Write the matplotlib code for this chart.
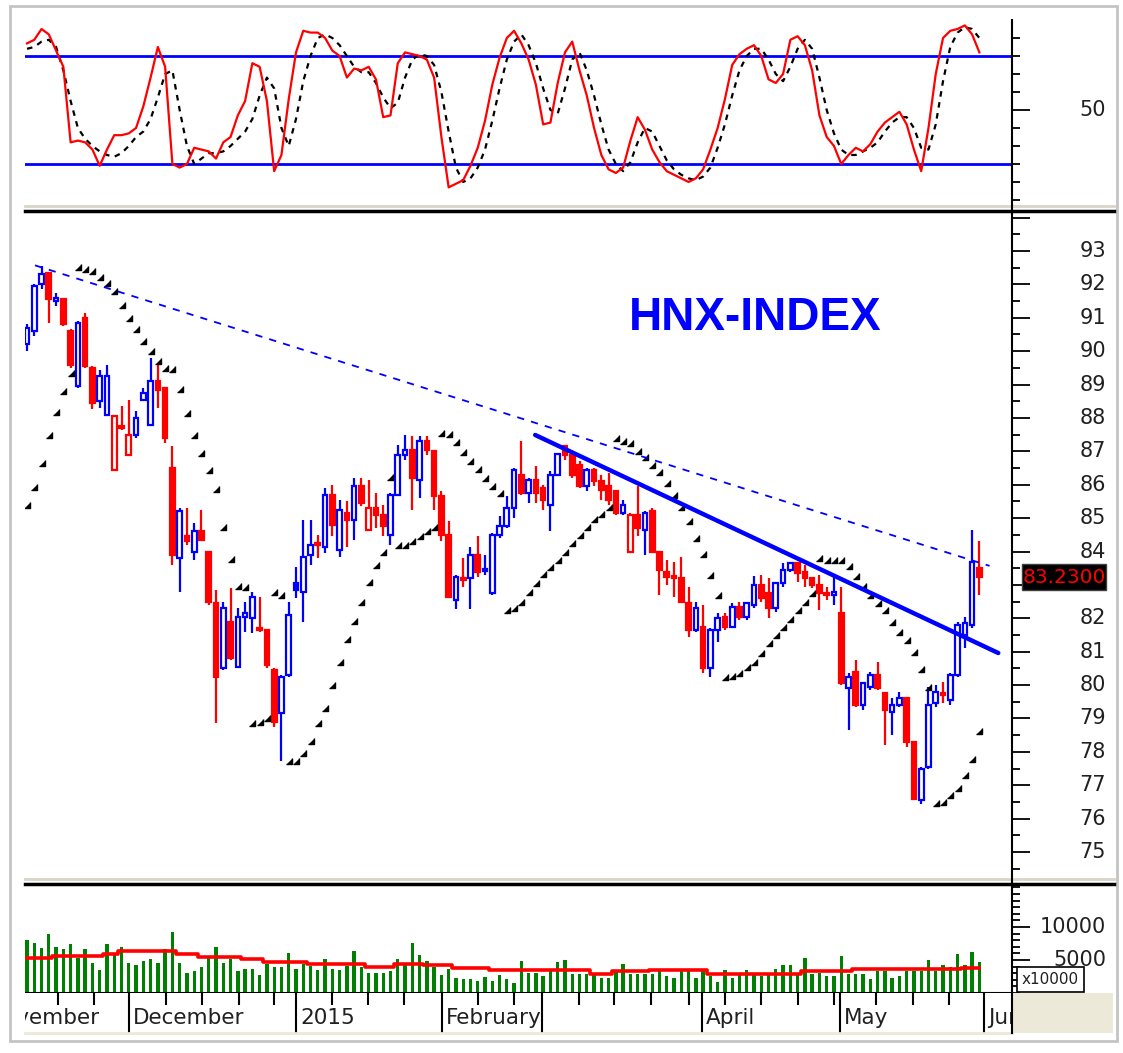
import numpy as np
import matplotlib.pyplot as plt
from matplotlib.patches import Rectangle
from matplotlib.lines import Line2D
import matplotlib.transforms as mtransforms

plt.rcParams['font.family'] = ['DejaVu Sans']

# ---- data (index 0 = first visible session, Nov 2014) ----
opens = [90.2, 90.6, 92.0, 92.35, 91.5, 91.55, 90.6, 88.95, 91.0, 89.5,
         88.5, 88.1, 86.45, 87.75, 86.9, 87.5, 88.55, 87.8, 89.1, 88.9,
         86.5, 83.8, 84.45, 84.0, 84.6, 84.0, 82.45, 80.5, 81.9, 80.55,
         82.05, 82.0, 81.7, 81.65, 80.45, 79.15, 80.3, 83.05, 82.8, 83.9,
         84.25, 84.15, 85.7, 84.05, 85.15, 84.95, 85.95, 84.65, 85.3, 85.1,
         84.5, 85.7, 86.9, 87.05, 86.15, 87.3, 87.0, 85.65, 84.5, 82.55,
         83.2, 83.2, 83.9, 83.48, 82.75, 84.5, 84.75, 85.3, 86.3, 85.75,
         86.15, 85.9, 85.4, 86.3, 87.15, 86.9, 86.6, 85.95, 86.45, 86.1,
         85.95, 85.8, 85.15, 84.0, 85.1, 84.65, 85.2, 84.0, 83.4, 83.27,
         83.2, 82.45, 81.65, 81.75, 80.5, 81.65, 82.05, 81.75, 82.35, 82.05,
         82.4, 83.0, 82.75, 82.3, 83.05, 83.45, 83.65, 83.4, 83.2, 83.0,
         82.75, 82.7, 82.15, 79.9, 80.4, 79.4, 79.95, 80.3, 79.75, 79.2,
         79.4, 79.6, 78.3, 76.55, 77.55, 79.45, 79.75, 79.55, 80.3, 81.5,
         81.8, 83.5]
highs = [90.8, 92.0, 92.55, 92.35, 91.75, 91.6, 90.65, 90.9, 91.15, 89.55,
         89.45, 89.6, 88.1, 88.35, 88.55, 88.2, 88.9, 89.8, 89.65, 88.9,
         87.15, 85.3, 85.3, 84.85, 85.25, 84.0, 82.85, 82.5, 82.9, 82.3,
         82.5, 82.8, 82.65, 81.65, 80.5, 80.3, 82.5, 83.55, 84.95, 84.95,
         84.5, 85.9, 86.0, 85.55, 85.5, 86.2, 86.2, 86.15, 85.75, 85.4,
         85.75, 87.2, 87.5, 87.45, 87.45, 87.45, 87.05, 85.8, 84.9, 83.3,
         83.8, 84.15, 84.45, 83.9, 84.55, 85.05, 85.65, 86.5, 87.3, 86.2,
         86.55, 86.0, 86.4, 86.95, 87.2, 86.95, 86.7, 86.5, 86.5, 86.3,
         86.35, 85.85, 85.55, 85.15, 85.95, 85.2, 85.3, 84.0, 83.75, 83.7,
         83.85, 82.95, 82.5, 82.4, 81.7, 82.15, 82.15, 82.45, 82.5, 82.5,
         83.27, 83.3, 83.2, 83.1, 83.65, 83.7, 83.7, 83.6, 83.25, 83.3,
         82.95, 83.25, 82.95, 80.35, 80.75, 80.1, 80.4, 80.7, 79.8, 79.6,
         79.8, 79.65, 78.3, 77.55, 79.95, 80.0, 80.1, 80.35, 81.9, 82.05,
         84.65, 84.3]
lows = [90.0, 90.45, 91.85, 90.85, 91.35, 90.75, 89.5, 88.9, 89.5, 88.27,
        88.3, 88.05, 86.4, 87.65, 86.9, 87.4, 88.5, 87.75, 88.3, 87.25,
        83.6, 82.8, 84.2, 83.75, 84.3, 82.4, 78.85, 80.45, 80.75, 80.5,
        81.6, 81.55, 81.6, 80.5, 78.75, 77.72, 80.25, 82.6, 81.9, 83.6,
        83.8, 83.95, 84.45, 83.85, 84.15, 84.35, 85.35, 84.6, 84.7, 84.45,
        84.2, 85.65, 86.75, 85.25, 85.6, 86.9, 85.25, 84.3, 82.6, 82.28,
        82.95, 82.28, 83.25, 83.3, 82.7, 84.4, 84.7, 85.0, 85.7, 85.45,
        85.45, 85.25, 84.6, 86.25, 86.75, 86.2, 85.9, 85.8, 85.95, 85.55,
        85.4, 85.1, 85.1, 83.95, 84.45, 83.9, 83.95, 82.7, 83.0, 82.65,
        82.45, 81.45, 81.6, 80.35, 80.25, 81.3, 81.65, 81.7, 81.95, 81.95,
        82.3, 82.5, 82.0, 82.2, 82.95, 83.4, 83.1, 82.95, 82.9, 82.25,
        82.55, 82.4, 80.0, 78.65, 79.35, 79.25, 79.85, 79.85, 78.2, 78.5,
        79.35, 78.15, 76.55, 76.45, 77.5, 79.35, 79.45, 79.4, 80.25, 81.1,
        81.7, 82.7]
closes = [90.7, 91.95, 92.3, 91.55, 91.6, 90.8, 89.6, 90.85, 89.55, 88.45,
          89.25, 89.25, 88.05, 87.7, 87.5, 88.0, 88.75, 89.1, 88.85, 87.4,
          83.9, 85.2, 84.3, 84.6, 84.35, 82.5, 80.25, 82.3, 80.8, 82.05,
          82.15, 82.65, 81.65, 80.6, 78.9, 80.25, 82.1, 82.85, 83.85, 84.2,
          84.18, 85.7, 84.8, 85.25, 84.95, 85.95, 85.45, 85.3, 85.1, 84.75,
          85.7, 86.9, 87.05, 86.2, 87.3, 87.05, 85.65, 84.5, 82.65, 83.25,
          83.15, 83.9, 83.4, 83.42, 84.5, 84.75, 85.3, 86.45, 85.75, 86.15,
          85.75, 85.55, 86.3, 86.92, 86.9, 86.3, 85.95, 86.45, 86.1, 85.85,
          85.55, 85.15, 85.4, 85.1, 84.7, 85.15, 84.0, 83.45, 83.25, 83.22,
          82.5, 81.65, 82.3, 80.5, 81.65, 82.0, 81.75, 82.35, 82.05, 82.45,
          83.0, 82.6, 82.3, 83.05, 83.45, 83.65, 83.35, 83.2, 83.0, 82.75,
          82.7, 82.8, 80.05, 80.25, 79.4, 80.05, 80.3, 79.9, 79.25, 79.4,
          79.6, 78.3, 76.6, 77.5, 79.4, 79.8, 79.7, 80.3, 81.8, 81.85,
          83.7, 83.23]

# volume in units of 10000
volume = [8000, 7650, 6780, 8900, 7000, 6730, 7400, 5250, 6730, 4600,
          3470, 7400, 6100, 7000, 4600, 4230, 4850, 5200, 4600, 6730,
          9180, 4600, 3060, 3300, 3930, 5460, 7000, 4600, 5100, 3300,
          3570, 3570, 2700, 4340, 3930, 3930, 6100, 3670, 4340, 4080,
          3420, 5200, 3670, 3520, 4080, 6380, 3980, 3060, 3060, 3060,
          3300, 5100, 4180, 7650, 5760, 4850, 3980, 2700, 3570, 2300,
          2140, 2140, 1890, 2400, 1890, 2700, 2140, 1480, 4850, 3060,
          3060, 2525, 3430, 4700, 4950, 2930, 2930, 2930, 2930, 2320,
          2320, 3430, 4340, 2930, 2930, 2930, 2930, 3430, 2525, 2320,
          3690, 3535, 2320, 3690, 2525, 1670, 3430, 2320, 3030, 3430,
          2930, 2525, 3030, 3690, 4290, 4290, 2930, 5300, 2930, 3030,
          2525, 2525, 5555, 2930, 2930, 2930, 2170, 3280, 3280, 2320,
          2525, 3280, 3280, 3280, 4950, 3280, 4290, 3940, 5860, 4290,
          6210, 4700]
vol_ma = [5250, 5250, 5250, 5250, 5600, 5600, 5600, 5600, 5600, 5600,
          5600, 5970, 5970, 6380, 6380, 6380, 6380, 6380, 6380, 6380,
          6380, 5870, 5870, 5870, 5460, 5460, 5460, 5460, 5460, 5460,
          5100, 5100, 5100, 4740, 4740, 4740, 4740, 4740, 4740, 4340,
          4340, 4340, 4340, 4340, 4340, 4340, 4340, 3980, 3980, 3980,
          3980, 4340, 4340, 4340, 4340, 4180, 4180, 4180, 4180, 3830,
          3830, 3830, 3830, 3830, 3430, 3430, 3430, 3430, 3430, 3430,
          3430, 3430, 3430, 3430, 3430, 3430, 3430, 3430, 2930, 2930,
          2930, 3330, 3330, 3330, 3330, 3330, 3430, 3430, 3430, 3430,
          3430, 3430, 3430, 3430, 2930, 2930, 2930, 2930, 2930, 2930,
          2930, 2930, 2930, 2930, 2930, 2930, 2930, 3330, 3330, 3330,
          3330, 3330, 3330, 3330, 3590, 3590, 3590, 3590, 3590, 3590,
          3590, 3590, 3590, 3590, 3590, 3590, 3590, 3590, 3590, 3840,
          3840, 3840]

stoch_k = [87, 89, 95, 92, 83, 74, 32, 33, 32, 28,
           19, 28, 36, 36, 37, 40, 52, 68, 85, 74,
           20, 18, 20, 29, 28, 27, 23, 32, 35, 47,
           55, 76, 74, 55, 16, 25, 56, 82, 94, 93,
           93, 90, 83, 80, 68, 73, 72, 74, 67, 46,
           47, 76, 82, 81, 80, 78, 68, 35, 7, 9,
           11, 19, 29, 44, 64, 79, 90, 94, 87, 78,
           64, 42, 43, 65, 82, 88, 72, 58, 40, 25,
           17, 15, 18, 33, 46, 39, 28, 21, 16, 14,
           12, 10, 12, 17, 28, 40, 56, 75, 81, 84,
           86, 80, 67, 65, 70, 89, 91, 86, 72, 47,
           35, 30, 20, 25, 29, 27, 31, 38, 43, 46,
           49, 42, 28, 16, 40, 70, 90, 94, 95, 97,
           92, 82]
stoch_d = [84, 85, 88, 89, 85, 72, 55, 40, 34, 30,
           27, 25, 24, 26, 30, 35, 38, 45, 57, 70,
           72, 50, 30, 20, 23, 26, 26, 27, 30, 34,
           38, 45, 58, 68, 62, 40, 30, 45, 66, 80,
           90, 92, 90, 86, 80, 74, 71, 71, 65, 57,
           51, 54, 68, 78, 81, 80, 75, 60, 38, 18,
           10, 12, 18, 28, 44, 62, 78, 88, 92, 86,
           76, 62, 50, 48, 62, 78, 82, 72, 58, 42,
           28, 20, 16, 21, 32, 40, 38, 30, 22, 17,
           14, 12, 11, 13, 18, 29, 42, 58, 72, 80,
           84, 84, 78, 70, 66, 74, 84, 89, 84, 68,
           50, 37, 28, 25, 25, 27, 29, 32, 38, 43,
           46, 46, 40, 29, 28, 42, 66, 85, 93, 96,
           95, 90]

# parabolic SAR dots
sar = [85.39, 85.92, 86.65, 87.49, 88.19, 88.8, 89.35, 92.52, 92.47, 92.4,
       92.22, 92.04, 91.8, 91.39, 91.0, 90.66, 90.3, 90.0, 89.7, 89.5,
       89.47, 88.87, 88.15, 87.49, 86.95, 86.45, 85.87, 84.73, 83.78, 82.98,
       82.94, 78.85, 78.9, 79.0, 82.8, 82.7, 77.73, 77.73, 77.97, 78.31,
       78.85, 79.32, 80.0, 80.7, 81.37, 81.93, 82.5, 83.1, 83.6, 83.99,
       86.22, 84.18, 84.18, 84.3, 84.47, 84.6, 84.73, 87.54, 87.52, 87.29,
       86.99, 86.72, 86.46, 86.19, 85.96, 85.74, 82.25, 82.3, 82.5, 82.8,
       83.05, 83.33, 83.55, 83.75, 83.99, 84.25, 84.49, 84.73, 84.98, 85.12,
       85.32, 87.39, 87.32, 87.24, 87.02, 86.82, 86.59, 86.39, 86.06, 85.69,
       85.32, 84.92, 84.39, 83.94, 83.3, 82.7, 80.25, 80.27, 80.35, 80.55,
       80.7, 80.95, 81.25, 81.5, 81.73, 81.97, 82.25, 82.5, 82.75, 83.82,
       83.76, 83.76, 83.76, 83.57, 83.27, 82.97, 82.7, 82.47, 82.25, 81.9,
       81.6, 81.35, 81.0, 80.47, 79.93, 76.46, 76.51, 76.71, 76.91, 77.31,
       77.78, 78.63]

month_names = ['November', 'December', '2015', 'February', '', 'April', 'May', 'Jun']
month_pos = [-5.9, 14.0, 37.0, 57.1, 70.8, 92.85, 111.8, 131.6]
week_pos = [4.3, 9.2, 19.1, 24.1, 29.1, 34.0, 41.9, 46.9, 51.9, 62.0, 67.0,
            75.9, 80.8, 85.8, 91.0, 96.0, 101.0, 106.0, 111.0, 116.8, 121.9, 126.8]

price_labels = [75, 76, 77, 78, 79, 80, 81, 82, 84, 85, 86, 87, 88, 89, 90, 91, 92, 93]

trend_x = [69.9, 133.6]
trend_y = [87.49, 80.96]
resist_x = [1.1, 132.4]
resist_y = [92.57, 83.57]
last_price = 83.23

# ---- layout (pixel based) ----
W, H = 1123, 1053
X0, STEP = 27, 7.27          # pixel of first candle, pixels per candle
LEFT, RIGHT = 25, 1012

def fbox(x0, y0, x1, y1):
    return [x0 / W, 1 - y1 / H, (x1 - x0) / W, (y1 - y0) / H]

def px2i(x):
    return (x - X0) / STEP

fig = plt.figure(figsize=(W / 100, H / 100), dpi=100)
fig.patch.set_facecolor('white')

ax_st = fig.add_axes(fbox(LEFT, 20, RIGHT, 205))
ax_pr = fig.add_axes(fbox(LEFT, 213, RIGHT, 880))
ax_vo = fig.add_axes(fbox(LEFT, 885, RIGHT, 993))
ax_lb = fig.add_axes(fbox(LEFT, 993, RIGHT, 1033))

for ax in (ax_st, ax_pr, ax_vo, ax_lb):
    ax.set_xlim(px2i(LEFT), px2i(RIGHT))
    for s in ax.spines.values():
        s.set_visible(False)
    ax.set_xticks([])
    ax.patch.set_alpha(0)

idx = np.arange(len(closes))

# ---- stochastic ----
ax_st.set_ylim(-2.8, 100)
ax_st.plot(idx, stoch_d, color='black', lw=1.6, ls=(0, (2.5, 2.5)), zorder=3)
ax_st.plot(idx, stoch_k, color='red', lw=1.6, zorder=4)
ax_st.axhline(80, color='blue', lw=2, zorder=2)
ax_st.axhline(20, color='blue', lw=2, zorder=2)

# ---- candles ----
ax_pr.set_ylim(74.162, 94.138)
bw = 0.64
for i in idx:
    o, h, l, c = opens[i], highs[i], lows[i], closes[i]
    prev = closes[i - 1] if i > 0 else o
    col = 'blue' if c >= prev else 'red'
    top, bot = max(o, c), min(o, c)
    ax_pr.plot([i, i], [top, h], color=col, lw=1.6, zorder=3, solid_capstyle='butt')
    ax_pr.plot([i, i], [l, bot], color=col, lw=1.6, zorder=3, solid_capstyle='butt')
    face = col if c < o else 'white'
    ax_pr.add_patch(Rectangle((i - bw / 2, bot), bw, max(top - bot, 0.005),
                              facecolor=face, edgecolor=col, lw=1.6, zorder=4))

ax_pr.plot(idx, sar, ls='none', marker=[(-1, -1), (1, -1), (1, 1)],
           ms=4, color='black', zorder=5)
ax_pr.plot(resist_x, resist_y, color='blue', lw=1.3, ls=(0, (4, 4)), zorder=5)
ax_pr.plot(trend_x, trend_y, color='blue', lw=3.2, zorder=6, solid_capstyle='round')

ax_pr.text(px2i(755), 93 - (318 - 251) / 33.39, 'HNX-INDEX', color='blue',
           fontsize=33, fontweight='bold', family='Liberation Sans',
           ha='center', va='center')

# ---- volume ----
ax_vo.set_ylim(0, 16364)
ax_vo.bar(idx, volume, width=0.46, color='green', zorder=2)
ax_vo.plot(idx, vol_ma, color='red', lw=2.6, zorder=3, drawstyle='steps-mid')
ax_vo.axhline(0, color='black', lw=1.5, zorder=4)

# ---- right axis ticks ----
for ax, maj, mnr in ((ax_st, [50], np.arange(0, 100, 10)),
                     (ax_pr, np.arange(75, 95, 1), np.arange(74.5, 94.5, 0.5)),
                     (ax_vo, [5000, 10000], np.arange(0, 17000, 1000))):
    ax.yaxis.set_ticks_position('right')
    ax.set_yticks(mnr, minor=True)
    ax.set_yticks(maj)
    ax.tick_params(axis='y', which='major', direction='out', length=13, width=1.3,
                   labelright=False, labelleft=False)
    ax.tick_params(axis='y', which='minor', direction='out', length=6, width=1.3)

def rlabel(ax, v, s):
    tr = mtransforms.blended_transform_factory(fig.transFigure, ax.transData)
    ax.text(1106 / W, v, s, transform=tr, ha='right', va='center', fontsize=15,
            color='#202020', clip_on=False)

rlabel(ax_st, 50, '50')
for v in price_labels:
    rlabel(ax_pr, v, str(v))
rlabel(ax_vo, 10000, '10000')
rlabel(ax_vo, 5000, '5000')

# ---- month labels ----
ax_lb.set_ylim(0, 1)
ax_lb.set_yticks([])
ax_lb.vlines(month_pos, 0, 1, color='black', lw=1.5)
ax_lb.vlines(week_pos, 1 - 12 / 40, 1, color='black', lw=1.5)
for p, name in zip(month_pos, month_names):
    ax_lb.text(p + 0.55, 0.38, name, fontsize=15.5, ha='left', va='center',
               clip_on=True, color='#202020')

# ---- frame, separators, boxes ----
def fline(x0, y0, x1, y1, **kw):
    fig.add_artist(Line2D([x0 / W, x1 / W], [1 - y0 / H, 1 - y1 / H], **kw))

fig.add_artist(Rectangle((10 / W, 1 - 1041 / H), 1107 / W, 1035 / H, fill=False,
                         edgecolor='#c4c4c4', lw=2, transform=fig.transFigure))
fig.add_artist(Rectangle((RIGHT / W, 1 - 1033 / H), 101 / W, 40 / H,
                         facecolor='#ece9d8', edgecolor='none', transform=fig.transFigure))
fline(LEFT, 1033, RIGHT, 1033, color='#ece9d8', lw=2)
fline(LEFT, 206, 1114, 206, color='#d8d4c8', lw=2)
fline(LEFT, 211, 1114, 211, color='black', lw=2.5)
fline(LEFT, 879, 1114, 879, color='#d8d4c8', lw=2)
fline(LEFT, 884, 1114, 884, color='black', lw=2.5)
fline(RIGHT, 20, RIGHT, 1033, color='black', lw=1.5)

y_last = 1 - (251 + (93 - last_price) * 33.39) / H
fig.add_artist(Rectangle((1022 / W, y_last - 13 / H), 84 / W, 26 / H,
                         facecolor='black', edgecolor='#404040', lw=1,
                         transform=fig.transFigure, zorder=10))
fig.text(1064 / W, y_last, '%.4f' % last_price, color='red', fontsize=14.5,
         ha='center', va='center', zorder=11)

fig.add_artist(Rectangle((1017 / W, 1 - 992 / H), 67 / W, 25 / H,
                         facecolor='white', edgecolor='black', lw=1.2,
                         transform=fig.transFigure, zorder=10))
fig.text(1050 / W, 1 - 979.5 / H, 'x10000', color='#202020', fontsize=11,
         ha='center', va='center', zorder=11)

fig.savefig('out.png', dpi=100)
